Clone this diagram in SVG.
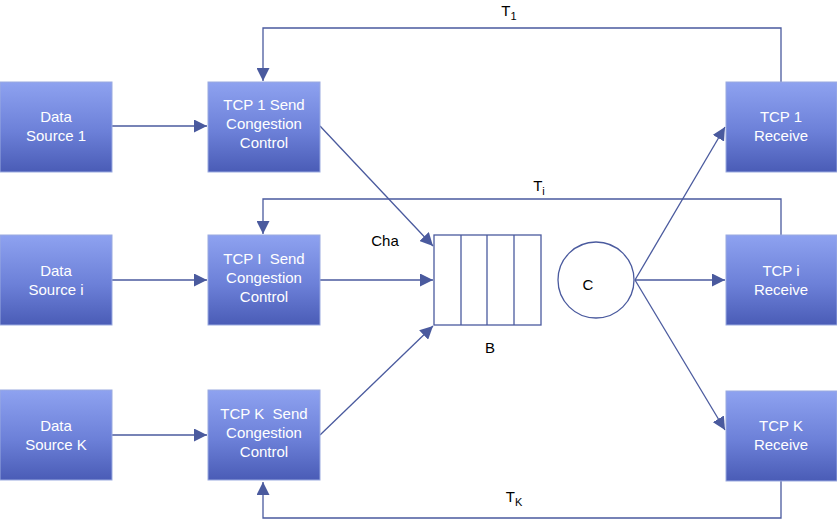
<svg xmlns="http://www.w3.org/2000/svg" width="837" height="519" viewBox="0 0 837 519">
<defs>
<linearGradient id="g" x1="0" y1="0" x2="0" y2="1">
<stop offset="0" stop-color="#8ea2f0"/>
<stop offset="0.55" stop-color="#6c80d8"/>
<stop offset="1" stop-color="#4a5cb6"/>
</linearGradient>
<marker id="ah" viewBox="0 0 10 10" refX="10" refY="5" markerWidth="13" markerHeight="13" markerUnits="userSpaceOnUse" orient="auto">
<path d="M0,0 L10,5 L0,10 z" fill="#4a5a9e"/>
</marker>
<style>
.box{fill:url(#g);stroke:#9aaae0;stroke-width:1}
.bt{font-family:"Liberation Sans",Arial,sans-serif;font-size:15px;fill:#ffffff;text-anchor:middle}
.lt{font-family:"Liberation Sans",Arial,sans-serif;font-size:15px;fill:#000000;text-anchor:middle}
.sub{font-size:11px}
.ln{fill:none;stroke:#4a5a9e;stroke-width:1.3}
.q{fill:#ffffff;stroke:#4a5a9e;stroke-width:1.3}
</style>
</defs>
<rect width="837" height="519" fill="#ffffff"/>
<g id="connectors">
<line class="ln" x1="112" y1="126" x2="207" y2="126" marker-end="url(#ah)"/>
<line class="ln" x1="112" y1="280" x2="207" y2="280" marker-end="url(#ah)"/>
<line class="ln" x1="112" y1="435" x2="207" y2="435" marker-end="url(#ah)"/>
<line class="ln" x1="320" y1="126" x2="433" y2="246" marker-end="url(#ah)"/>
<line class="ln" x1="320" y1="280" x2="433" y2="280" marker-end="url(#ah)"/>
<line class="ln" x1="320" y1="435" x2="433" y2="326" marker-end="url(#ah)"/>
<line class="ln" x1="635" y1="280" x2="725" y2="127" marker-end="url(#ah)"/>
<line class="ln" x1="635" y1="280" x2="725" y2="280" marker-end="url(#ah)"/>
<line class="ln" x1="635" y1="280" x2="725" y2="430" marker-end="url(#ah)"/>
<polyline class="ln" points="781,82 781,28 263,28 263,81" marker-end="url(#ah)"/>
<polyline class="ln" points="781,235 781,199 263,199 263,234" marker-end="url(#ah)"/>
<polyline class="ln" points="781,481 781,518 263,518 263,482" marker-end="url(#ah)"/>
</g>
<g id="ds1"><rect class="box" x="0" y="82" width="112" height="90"/><text class="bt" x="56" y="122">Data</text><text class="bt" x="56" y="141">Source 1</text></g>
<g id="dsi"><rect class="box" x="0" y="235" width="112" height="90"/><text class="bt" x="56" y="276">Data</text><text class="bt" x="56" y="295">Source i</text></g>
<g id="dsk"><rect class="box" x="0" y="390" width="112" height="90"/><text class="bt" x="56" y="431">Data</text><text class="bt" x="56" y="450">Source K</text></g>
<g id="tcp1s"><rect class="box" x="208" y="82" width="112" height="90"/><text class="bt" x="264" y="110">TCP 1 Send</text><text class="bt" x="264" y="129">Congestion</text><text class="bt" x="264" y="148">Control</text></g>
<g id="tcpis"><rect class="box" x="208" y="235" width="112" height="90"/><text class="bt" x="264" y="264" xml:space="preserve">TCP I  Send</text><text class="bt" x="264" y="283">Congestion</text><text class="bt" x="264" y="302">Control</text></g>
<g id="tcpks"><rect class="box" x="208" y="390" width="112" height="90"/><text class="bt" x="264" y="419" xml:space="preserve">TCP K  Send</text><text class="bt" x="264" y="438">Congestion</text><text class="bt" x="264" y="457">Control</text></g>
<g id="tcp1r"><rect class="box" x="726" y="82" width="111" height="90"/><text class="bt" x="781" y="122">TCP 1</text><text class="bt" x="781" y="141">Receive</text></g>
<g id="tcpir"><rect class="box" x="726" y="235" width="111" height="90"/><text class="bt" x="781" y="276">TCP i</text><text class="bt" x="781" y="295">Receive</text></g>
<g id="tcpkr"><rect class="box" x="726" y="391" width="111" height="90"/><text class="bt" x="781" y="431">TCP K</text><text class="bt" x="781" y="450">Receive</text></g>
<g id="queue">
<rect class="q" x="434" y="235" width="107" height="90"/>
<line class="ln" x1="461" y1="235" x2="461" y2="325"/>
<line class="ln" x1="487" y1="235" x2="487" y2="325"/>
<line class="ln" x1="514" y1="235" x2="514" y2="325"/>
</g>
<g id="server"><circle class="q" cx="596" cy="280" r="38"/><text class="lt" x="588" y="290">C</text></g>
<g id="labels">
<text class="lt" x="385" y="246">Cha</text>
<text class="lt" x="490" y="353">B</text>
<text class="lt" x="509" y="16">T<tspan class="sub" dy="4">1</tspan></text>
<text class="lt" x="539" y="191">T<tspan class="sub" dy="4">i</tspan></text>
<text class="lt" x="514" y="502">T<tspan class="sub" dy="4">K</tspan></text>
</g>
</svg>
